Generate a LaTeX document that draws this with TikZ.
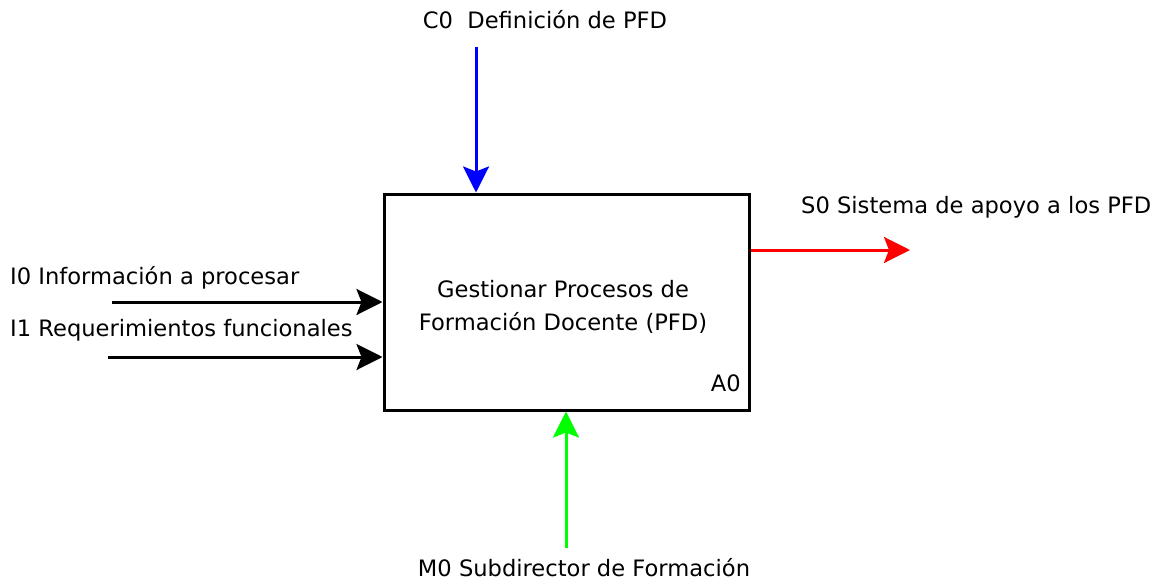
\documentclass[tikz,border=0pt]{standalone}
\usepackage{fontspec}
\setmainfont{DejaVu Sans}
\usetikzlibrary{arrows.meta}
\definecolor{cblue}{RGB}{0,0,255}
\definecolor{cred}{RGB}{255,0,0}
\definecolor{cgreen}{RGB}{0,255,0}
\tikzset{
  lbl/.style={inner sep=0pt, font=\fontsize{22.6}{33}\selectfont},
  flow/.style={line width=3pt, -{Stealth[length=26pt,width=26pt,inset=5pt]}},
  actbox/.style={draw, line width=3pt, minimum width=365pt, minimum height=216pt, inner sep=0pt}
}
\begin{document}
\begin{tikzpicture}[x=1pt,y=-1pt]
\useasboundingbox (0,0) rectangle (1155,583);
\node[actbox] (box) at (566.5,302) {};
\node[lbl, align=center] (title) at (563,307) {Gestionar Procesos de\\Formación Docente (PFD)};
\node[lbl, anchor=east] (a0) at (741,383) {A0};
% control
\node[lbl] (c0) at (545,20) {C0\ \ Definición de PFD};
\coordinate (c0s) at (476,47);
\draw[flow, cblue] (c0s) -- (c0s |- box.north);
% inputs
\node[lbl, anchor=west] (i0) at (10,278) {I0 Información a procesar};
\node[lbl, anchor=west] (i1) at (10,330) {I1 Requerimientos funcionales};
\coordinate (i0s) at (112,302);
\coordinate (i1s) at (108,357);
\draw[flow, black] (i0s) -- (i0s -| box.west);
\draw[flow, black] (i1s) -- (i1s -| box.west);
% output
\node[lbl, anchor=west] (s0) at (801,207) {S0 Sistema de apoyo a los PFD};
\coordinate (s0e) at (910,250);
\draw[flow, cred] (s0e -| box.east) -- (s0e);
% mechanism
\node[lbl] (m0) at (584,568) {M0 Subdirector de Formación};
\coordinate (m0s) at (566,548);
\draw[flow, cgreen] (m0s) -- (m0s |- box.south);
\end{tikzpicture}
\end{document}
